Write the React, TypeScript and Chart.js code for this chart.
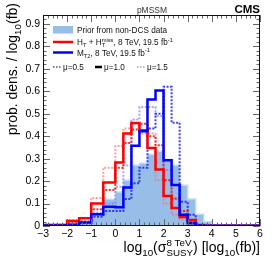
import { useEffect, useRef } from 'react';
import { Chart, registerables } from 'chart.js';
Chart.register(...registerables);

// bin edges in log10(sigma / fb)
const binEdges = [-3, -2, -1.5, -1, -0.5, 0, 0.3333, 0.6667, 1, 1.3333, 1.6667, 2, 2.3333, 2.6667, 3, 3.3333, 3.6667, 4, 5, 6];

const priorNonDCS = [0.001, 0.003, 0.006, 0.012, 0.056, 0.119, 0.152, 0.204, 0.271, 0.28, 0.318, 0.333, 0.296, 0.271, 0.182, 0.12, 0.052, 0.019, 0.001];
const htMu10 = [0.002, 0.005, 0.022, 0.034, 0.1, 0.194, 0.283, 0.412, 0.459, 0.427, 0.348, 0.252, 0.134, 0.08, 0.04, 0.027, 0.004, 0.001, 0.001];
const htMu05 = [0.001, 0.004, 0.015, 0.02, 0.075, 0.16, 0.26, 0.37, 0.43, 0.455, 0.4, 0.36, 0.204, 0.123, 0.067, 0.02, 0.004, 0.001, 0.001];
const htMu15 = [0.002, 0.008, 0.027, 0.037, 0.125, 0.26, 0.356, 0.434, 0.456, 0.412, 0.412, 0.204, 0.1, 0.05, 0.03, 0.01, 0.003, 0.001, 0.001];
const mt2Mu10 = [0.001, 0.002, 0.006, 0.016, 0.052, 0.086, 0.083, 0.172, 0.357, 0.422, 0.564, 0.604, 0.293, 0.183, 0.05, 0.012, 0.002, 0.001, 0.001];
const mt2Mu05 = [0.001, 0.002, 0.005, 0.012, 0.041, 0.067, 0.067, 0.12, 0.19, 0.26, 0.434, 0.5, 0.62, 0.46, 0.108, 0.05, 0.005, 0.001, 0.001];
const mt2Mu15 = [0.001, 0.003, 0.01, 0.02, 0.06, 0.1, 0.175, 0.27, 0.474, 0.53, 0.53, 0.49, 0.25, 0.12, 0.05, 0.02, 0.003, 0.001, 0.001];

const xTickValues = [-3, -2, -1, 0, 1, 2, 3, 4, 5, 6];
const yTickValues = [0, 0.1, 0.2, 0.3, 0.4, 0.5, 0.6, 0.7, 0.8, 0.9];

const FAM = '"Liberation Sans", Arial, sans-serif';

function toSteps(vals: number[]) {
  const pts = vals.map((v, i) => ({ x: binEdges[i], y: v }));
  pts.push({ x: binEdges[binEdges.length - 1], y: vals[vals.length - 1] });
  return pts;
}

type Seg = { t: string; k?: 'sub' | 'sup' } | { sup: string; sub: string };

function fnt(size: number, weight = 'normal') {
  return `${weight} ${size}px ${FAM}`;
}

function segW(ctx: CanvasRenderingContext2D, s: Seg, size: number): number {
  if ('sup' in s && 'sub' in s && !('t' in s)) {
    ctx.font = fnt(size * 0.7);
    return Math.max(ctx.measureText(s.sup).width, ctx.measureText(s.sub).width);
  }
  const seg = s as { t: string; k?: string };
  ctx.font = fnt(seg.k ? size * 0.7 : size);
  return ctx.measureText(seg.t).width;
}

function drawRich(ctx: CanvasRenderingContext2D, segs: Seg[], x: number, y: number, size: number, align: 'left' | 'right', color: string) {
  const total = segs.reduce((a, s) => a + segW(ctx, s, size), 0);
  let cx = align === 'right' ? x - total : x;
  ctx.fillStyle = color;
  ctx.textAlign = 'left';
  ctx.textBaseline = 'alphabetic';
  for (const s of segs) {
    const w = segW(ctx, s, size);
    if ('sup' in s && 'sub' in s && !('t' in s)) {
      ctx.font = fnt(size * 0.7);
      ctx.fillText(s.sup, cx, y - size * 0.42);
      ctx.fillText(s.sub, cx, y + size * 0.28);
    } else {
      const seg = s as { t: string; k?: string };
      ctx.font = fnt(seg.k ? size * 0.7 : size);
      const dy = seg.k === 'sub' ? size * 0.28 : seg.k === 'sup' ? -size * 0.42 : 0;
      ctx.fillText(seg.t, cx, y + dy);
    }
    cx += w;
  }
}

const PRIOR_FILL = 'rgb(150,190,230)';
const PRIOR_LINE = 'rgb(195,218,242)';

const framePlugin = {
  id: 'frameTicks',
  afterDatasetsDraw(chart: any) {
    const { ctx, chartArea: a, scales } = chart;
    const x = scales.x, y = scales.y;
    ctx.save();
    ctx.strokeStyle = '#666';
    ctx.lineWidth = 1;
    ctx.beginPath();
    for (let i = 0; i <= 45; i++) {
      const v = -3 + i * 0.2;
      const px = Math.round(x.getPixelForValue(v)) + 0.5;
      const len = i % 5 === 0 ? 7 : 3.5;
      ctx.moveTo(px, a.bottom); ctx.lineTo(px, a.bottom - len);
      ctx.moveTo(px, a.top); ctx.lineTo(px, a.top + len);
    }
    for (let i = 0; i <= 47; i++) {
      const v = i * 0.02;
      if (v > 0.94) break;
      const py = Math.round(y.getPixelForValue(v)) + 0.5;
      const len = i % 5 === 0 ? 7 : 3.5;
      ctx.moveTo(a.left, py); ctx.lineTo(a.left + len, py);
      ctx.moveTo(a.right, py); ctx.lineTo(a.right - len, py);
    }
    ctx.stroke();
    ctx.strokeStyle = '#111';
    ctx.strokeRect(a.left + 0.5, a.top + 0.5, a.right - a.left - 1, a.bottom - a.top - 1);
    ctx.restore();
  },
};

const textPlugin = {
  id: 'texts',
  afterDraw(chart: any) {
    const { ctx, chartArea: a } = chart;
    ctx.save();
    // header
    ctx.fillStyle = '#333';
    ctx.font = fnt(8.5);
    ctx.textAlign = 'center';
    ctx.textBaseline = 'alphabetic';
    ctx.fillText('pMSSM', 152, 13);
    ctx.fillStyle = '#000';
    ctx.font = fnt(11.5, 'bold');
    ctx.textAlign = 'right';
    ctx.fillText('CMS', a.right, 13);

    // legend
    const lx = 53, tx = 77, ls = 8.2;
    ctx.fillStyle = PRIOR_FILL;
    ctx.fillRect(lx, 26, 20, 7.5);
    drawRich(ctx, [{ t: 'Prior from non-DCS data' }], tx, 33, ls, 'left', '#111');

    ctx.lineWidth = 2.5;
    ctx.strokeStyle = 'rgb(255,0,0)';
    ctx.beginPath(); ctx.moveTo(lx, 42); ctx.lineTo(lx + 20, 42); ctx.stroke();
    drawRich(ctx, [{ t: 'H' }, { t: 'T', k: 'sub' }, { t: ' + H' }, { sup: 'miss', sub: 'T' }, { t: ', 8 TeV, 19.5 fb' }, { t: '-1', k: 'sup' }], tx, 45, ls, 'left', '#111');

    ctx.strokeStyle = 'rgb(0,0,255)';
    ctx.beginPath(); ctx.moveTo(lx, 52.5); ctx.lineTo(lx + 20, 52.5); ctx.stroke();
    drawRich(ctx, [{ t: 'M' }, { t: 'T2', k: 'sub' }, { t: ', 8 TeV, 19.5 fb' }, { t: '-1', k: 'sup' }], tx, 55.5, ls, 'left', '#111');

    const ry = 67;
    ctx.lineWidth = 1.5;
    ctx.setLineDash([1.5, 1.5]);
    ctx.strokeStyle = '#555';
    ctx.beginPath(); ctx.moveTo(lx, ry); ctx.lineTo(lx + 9, ry); ctx.stroke();
    ctx.strokeStyle = '#aaa';
    ctx.beginPath(); ctx.moveTo(137, ry); ctx.lineTo(146, ry); ctx.stroke();
    ctx.setLineDash([]);
    ctx.lineWidth = 2.5;
    ctx.strokeStyle = '#000';
    ctx.beginPath(); ctx.moveTo(95, ry); ctx.lineTo(102, ry); ctx.stroke();
    drawRich(ctx, [{ t: 'μ=0.5' }], 63, ry + 3, ls, 'left', '#111');
    drawRich(ctx, [{ t: 'μ=1.0' }], 104, ry + 3, ls, 'left', '#111');
    drawRich(ctx, [{ t: 'μ=1.5' }], 147, ry + 3, ls, 'left', '#111');

    // x title
    drawRich(ctx, [{ t: 'log' }, { t: '10', k: 'sub' }, { t: '(σ' }, { sup: '8 TeV', sub: 'SUSY' }, { t: ') [log' }, { t: '10', k: 'sub' }, { t: '(fb)]' }], a.right, 252, 14, 'right', '#000');

    // y title
    ctx.save();
    ctx.translate(17, 3);
    ctx.rotate(-Math.PI / 2);
    drawRich(ctx, [{ t: 'prob. dens. / log' }, { t: '10', k: 'sub' }, { t: '(fb)' }], 0, 0, 14, 'right', '#000');
    ctx.restore();
    ctx.restore();
  },
};

function lineDs(label: string, vals: number[], color: string, width: number, dash: number[], order: number) {
  return {
    label,
    data: toSteps(vals),
    borderColor: color,
    borderWidth: width,
    borderDash: dash,
    stepped: 'after' as const,
    fill: false,
    pointRadius: 0,
    order,
  };
}

export default function App() {
  const ref = useRef<HTMLCanvasElement>(null);
  useEffect(() => {
    if (!ref.current) return;
    const tickFont = { family: FAM, size: 10.5 };
    const chart = new Chart(ref.current, {
      type: 'line',
      data: {
        datasets: [
          {
            label: 'Prior from non-DCS data',
            data: toSteps(priorNonDCS),
            borderColor: PRIOR_LINE,
            backgroundColor: PRIOR_FILL,
            borderWidth: 1.5,
            stepped: 'after',
            fill: 'origin',
            pointRadius: 0,
            order: 10,
          } as any,
          lineDs('HT mu=1.5', htMu15, 'rgba(255,110,110,0.65)', 2, [2, 1.5], 6),
          lineDs('MT2 mu=1.5', mt2Mu15, 'rgba(120,120,255,0.65)', 2, [2, 1.5], 6),
          lineDs('HT mu=0.5', htMu05, 'rgba(235,20,20,0.85)', 2, [2, 1.5], 5),
          lineDs('MT2 mu=0.5', mt2Mu05, 'rgba(30,30,235,0.85)', 2, [2, 1.5], 5),
          lineDs('HT mu=1.0', htMu10, 'rgb(255,0,0)', 2.5, [], 2),
          lineDs('MT2 mu=1.0', mt2Mu10, 'rgb(0,0,255)', 2.5, [], 1),
        ],
      },
      options: {
        responsive: false,
        maintainAspectRatio: false,
        animation: false,
        layout: { padding: { top: 15, right: 14, left: 0, bottom: 0 } },
        plugins: { legend: { display: false }, tooltip: { enabled: false } },
        elements: { point: { radius: 0 } },
        scales: {
          x: {
            type: 'linear',
            min: -3,
            max: 6,
            afterFit: (s: any) => { s.height = 37; },
            afterBuildTicks: (s: any) => { s.ticks = xTickValues.map((v) => ({ value: v })); },
            ticks: {
              autoSkip: false,
              maxRotation: 0,
              padding: 2,
              color: '#000',
              font: tickFont,
              callback: (v: any) => (Number(v) < 0 ? '\u2212' + Math.abs(Number(v)) : String(v)),
            },
            grid: { display: false, drawTicks: false },
            border: { display: false },
          },
          y: {
            type: 'linear',
            min: 0,
            max: 0.94,
            afterFit: (s: any) => { s.width = 43; },
            afterBuildTicks: (s: any) => { s.ticks = yTickValues.map((v) => ({ value: v })); },
            ticks: {
              autoSkip: false,
              padding: 3,
              color: '#000',
              font: tickFont,
              callback: (v: any) => (Number(v) === 0 ? '0' : Number(v).toFixed(1)),
            },
            grid: { display: false, drawTicks: false },
            border: { display: false },
          },
        },
      },
      plugins: [framePlugin, textPlugin],
    });
    return () => chart.destroy();
  }, []);
  return (
    <div style={{ position: 'fixed', left: 0, top: 0, width: 274, height: 263, background: '#fff' }}>
      <canvas ref={ref} width={274} height={263} style={{ display: 'block', width: 274, height: 263 }} />
    </div>
  );
}
